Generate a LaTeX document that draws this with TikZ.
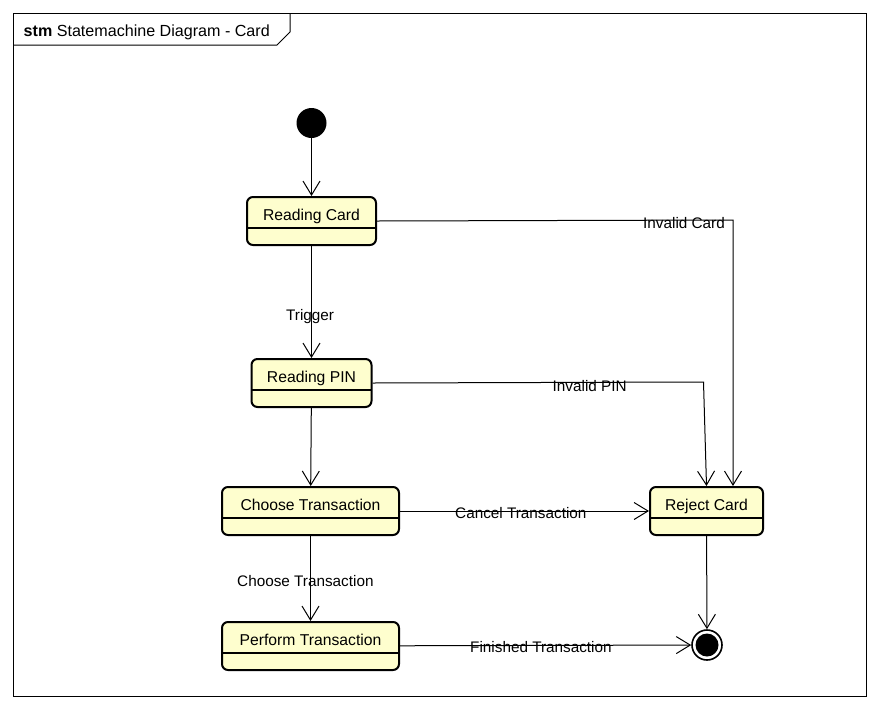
\documentclass[tikz,border=0pt]{standalone}
\usepackage{fontspec}
\setmainfont{Liberation Sans}
\usetikzlibrary{arrows.meta}
\definecolor{statefill}{HTML}{FEFECE}
\begin{document}
\begin{tikzpicture}[x=1pt,y=-1pt,
  font=\fontsize{15.3}{18}\selectfont,
  state/.style={draw=black, line width=2pt, fill=statefill, rounded corners=6pt,
    font=\fontsize{15.7}{18}\selectfont,
    anchor=north, inner xsep=0pt, inner ysep=0pt, text height=23pt, text depth=25pt,
    path picture={\draw[line width=1.3pt]
      ([yshift=-31pt]path picture bounding box.north west) --
      ([yshift=-31pt]path picture bounding box.north east);}},
  flow/.style={draw, line width=1pt, -{Straight Barb[length=14pt,width=17pt,line width=1pt]}},
  lbl/.style={anchor=base west, inner sep=0pt},
  startstate/.style={circle, fill=black, inner sep=0pt, minimum size=30pt},
  endstate/.style={circle, draw=black, line width=1.6pt, fill=white, inner sep=0pt, minimum size=30pt,
    path picture={\fill[black] (path picture bounding box.center) circle (11.5pt);}}
]
\useasboundingbox (0,0) rectangle (880,710);

% diagram frame with its name tab
\draw[line width=1pt] (13,13) rectangle (866,696);
\draw[line width=1pt] (13,45) -- (277,45) -- (290,32) -- (290,13);
\node[lbl, font=\fontsize{16.1}{18}\selectfont] (title) at (23.5,36.5) {\textbf{stm} Statemachine Diagram - Card};

% states
\node[startstate] (init) at (311.5,123) {};
\node[state, minimum width=129pt] (card) at (311.5,196) {Reading Card};
\node[state, minimum width=120pt] (pin) at (311.5,358) {Reading PIN};
\node[state, minimum width=177pt] (choose) at (310.5,486) {Choose Transaction};
\node[state, minimum width=177pt] (perform) at (310.5,621) {Perform Transaction};
\node[state, minimum width=113pt] (reject) at (706.5,486) {Reject Card};
\node[endstate] (final) at (707,645) {};

% bend points
\coordinate (cardbend) at (733,220);
\coordinate (pinbend) at (703.5,382);

% transitions
\draw[flow] (init) -- (card);
\draw[flow] (card) -- (pin);
\draw[flow] (card.east) -- (cardbend) -- (reject.north -| cardbend);
\draw[flow] (pin.east) -- (pinbend) -- (reject.north);
\draw[flow] (pin) -- (choose);
\draw[flow] (choose) -- (reject);
\draw[flow] (choose) -- (perform);
\draw[flow] (perform) -- (final);
\draw[flow] (reject) -- (final);

% transition labels
\node[lbl] (ltrigger) at (286,320) {Trigger};
\node[lbl] (linvcard) at (643,228.3) {Invalid Card};
\node[lbl] (linvpin) at (552.5,391) {Invalid PIN};
\node[lbl] (lcancel) at (455,518) {Cancel Transaction};
\node[lbl] (lchoose) at (237,586) {Choose Transaction};
\node[lbl] (lfinish) at (470,652.5) {Finished Transaction};
\end{tikzpicture}
\end{document}
